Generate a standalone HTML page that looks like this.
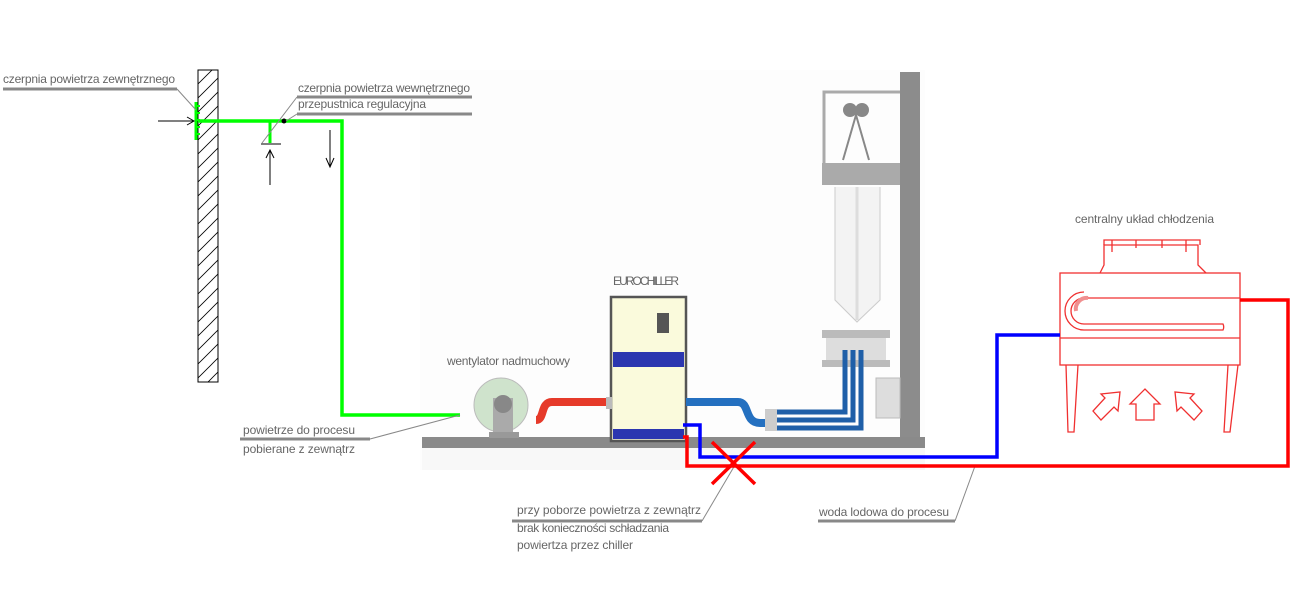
<!DOCTYPE html>
<html><head><meta charset="utf-8"><style>
html,body{margin:0;padding:0;background:#fff;}
svg{display:block;}
text{font-family:"Liberation Sans",sans-serif;font-size:12px;fill:#666;}
</style></head><body>
<svg width="1306" height="604" viewBox="0 0 1306 604" xmlns="http://www.w3.org/2000/svg">
<defs>
<pattern id="h" width="14" height="14" patternUnits="userSpaceOnUse" patternTransform="translate(198,70)">
<line x1="0" y1="14" x2="14" y2="0" stroke="#000" stroke-width="0.8"/>
<line x1="-7" y1="7" x2="7" y2="-7" stroke="#000" stroke-width="0.8"/>
<line x1="7" y1="21" x2="21" y2="7" stroke="#000" stroke-width="0.8"/>
</pattern>
<linearGradient id="cg" x1="0" x2="1"><stop offset="0" stop-color="#f4b0b0"/><stop offset="0.45" stop-color="#dd0000"/><stop offset="1" stop-color="#dd0000"/></linearGradient>
</defs>

<!-- process background -->
<rect x="420" y="70" width="505" height="400" fill="#fdfdfd"/>
<rect x="422" y="437" width="503" height="11" fill="#8a8a8a"/>
<rect x="422" y="448" width="503" height="22" fill="#f8f8f8"/>
<rect x="900" y="72" width="20" height="365" fill="#8c8c8c"/>
<!-- tower -->
<path d="M824 163 V92 H900" fill="none" stroke="#aaa" stroke-width="3"/>
<circle cx="850" cy="110" r="7" fill="#888"/><circle cx="862" cy="110" r="7" fill="#888"/>
<path d="M843 160 L856 115 L869 160" fill="none" stroke="#888" stroke-width="2"/>
<rect x="822" y="163" width="78" height="22" fill="#aaa"/>
<path d="M835 187 V300 L857 322 L880 300 V187" fill="#f3f3f3" stroke="#ccc"/>
<line x1="857" y1="187" x2="857" y2="320" stroke="#ddd" stroke-width="3"/>
<rect x="822" y="330" width="68" height="8" fill="#bbb"/>
<rect x="826" y="338" width="60" height="22" fill="#ddd"/>
<rect x="822" y="360" width="68" height="7" fill="#bbb"/>
<rect x="876" y="378" width="24" height="40" fill="#ddd" stroke="#bbb"/>
<!-- fan -->
<circle cx="501" cy="405" r="27" fill="#cfe3cc" stroke="#bbb"/>
<rect x="493" y="398" width="20" height="34" fill="#aaa"/>
<circle cx="503" cy="404" r="9" fill="#888"/>
<rect x="489" y="432" width="30" height="6" fill="#999"/>
<!-- red duct -->
<path d="M536 420 C545 420 540 402 552 402 H606" fill="none" stroke="#e63a2a" stroke-width="8"/>
<!-- chiller -->
<rect x="611" y="297" width="75" height="144" fill="#fafadc" stroke="#555" stroke-width="2.5"/>
<rect x="613" y="352" width="71" height="15" fill="#2b36b0"/>
<rect x="613" y="429" width="71" height="10" fill="#2b36b0"/>
<rect x="657" y="313" width="12" height="20" fill="#555"/>
<rect x="606" y="397" width="6" height="12" fill="#bbb"/>
<!-- blue ducts -->
<path d="M686 402 H738 C750 402 744 423 760 423 H770" fill="none" stroke="#2470c0" stroke-width="8"/>
<rect x="765" y="409" width="12" height="22" fill="#ccc"/>
<path d="M777 412 H845 V350 M777 420 H853 V350 M777 428 H861 V350" fill="none" stroke="#1f5fa8" stroke-width="5"/>

<!-- wall -->
<rect x="198" y="70" width="20" height="312" fill="url(#h)" stroke="#000" stroke-width="1"/>
<!-- green -->
<path d="M196 102 V140" stroke="#00ff00" stroke-width="3"/>
<path d="M196 106 h4 M196 113 h4 M196 120 h4 M196 127 h4 M196 134 h4" stroke="#00ff00" stroke-width="2"/>
<path d="M198 121 H342 V415 H460" fill="none" stroke="#00ff00" stroke-width="3.5"/>
<path d="M270 121 V143" stroke="#00ff00" stroke-width="3"/>
<line x1="261" y1="144" x2="281" y2="144" stroke="#000"/>
<circle cx="284" cy="121" r="2.5" fill="#000"/>
<!-- arrows -->
<path d="M158 121 H194 M187 117 L194 121 L187 125" fill="none" stroke="#000"/>
<path d="M270 185 V150 M266 158 L270 150 L274 158" fill="none" stroke="#000"/>
<path d="M330 130 V167 M326 158 L330 167 L334 158" fill="none" stroke="#000"/>

<!-- labels -->
<text x="3" y="83" textLength="172">czerpnia powietrza zewnętrznego</text>
<line x1="3" y1="89" x2="177" y2="89" stroke="#888" stroke-width="3"/>
<line x1="177" y1="89" x2="196" y2="110" stroke="#888"/>
<text x="298" y="92" textLength="172">czerpnia powietrza wewnętrznego</text>
<line x1="297" y1="97" x2="472" y2="97" stroke="#888" stroke-width="3"/>
<text x="298" y="108" textLength="128">przepustnica regulacyjna</text>
<line x1="297" y1="114" x2="472" y2="114" stroke="#888" stroke-width="3"/>
<line x1="297" y1="97" x2="262" y2="143" stroke="#888"/>
<line x1="297" y1="114" x2="286" y2="121" stroke="#888"/>

<text x="447" y="365" textLength="123">wentylator nadmuchowy</text>
<text x="613" y="285" textLength="66">EUROCHILLER</text>

<text x="243" y="434" textLength="112">powietrze do procesu</text>
<line x1="240" y1="439" x2="370" y2="439" stroke="#888" stroke-width="3"/>
<line x1="370" y1="439" x2="460" y2="415" stroke="#888"/>
<text x="243" y="453" textLength="112">pobierane z zewnątrz</text>

<text x="517" y="514" textLength="184">przy poborze powietrza z zewnątrz</text>
<line x1="512" y1="521" x2="702" y2="521" stroke="#888" stroke-width="3"/>
<line x1="702" y1="521" x2="735" y2="465" stroke="#888"/>
<text x="517" y="532" textLength="152">brak konieczności schładzania</text>
<text x="517" y="549" textLength="116">powiertza przez chiller</text>

<text x="819" y="516" textLength="130">woda lodowa do procesu</text>
<line x1="818" y1="521" x2="955" y2="521" stroke="#888" stroke-width="3"/>
<line x1="955" y1="521" x2="975" y2="466" stroke="#888"/>

<text x="1075" y="223" textLength="139">centralny układ chłodzenia</text>

<!-- cooling unit -->
<g fill="none" stroke="#f03030" stroke-width="1.3">
<path d="M1100 273 L1104 265 V245 H1198 V265 L1206 273"/>
<path d="M1104 245 V240 H1200 V245 M1112 240 V252 M1136 240 V248 M1162 240 V248 M1186 240 V252"/>
<rect x="1060" y="273" width="180" height="92"/>
<path d="M1060 338 H1240"/>
<path d="M1066 365 L1068 432 H1074 L1078 365 M1228 365 L1224 432 H1230 L1238 365"/>
<path d="M1240 298 H1084 A13 13 0 0 0 1084 324 H1223 A7 7 0 0 1 1223 330 H1084 A19 19 0 0 1 1084 292"/>
<path d="M1136 420 H1154 V404 H1160 L1145 389 L1130 404 H1136 Z"/>
<path d="M1101 420 L1114 407 L1118 411 L1120 392 L1101 394 L1105 398 L1093 411 Z"/>
<path d="M1194 420 L1181 407 L1177 411 L1175 392 L1194 394 L1190 398 L1202 411 Z"/>
</g>
<path d="M1088 298 H1240" stroke="url(#cg)" stroke-width="5"/>
<path d="M1076 311 A11 11 0 0 1 1088 298" fill="none" stroke="#f09090" stroke-width="4"/>

<!-- water lines -->
<path d="M683 425 H700 V457 H997 V335 H1060" fill="none" stroke="#0000ff" stroke-width="3.5"/>
<path d="M683 437 H687 V466 H1288 V300 H1240" fill="none" stroke="#ff0000" stroke-width="3.5"/>
<path d="M712 442 L755 484 M755 442 L712 484" stroke="#ff0000" stroke-width="3.5"/>
</svg>
</body></html>
